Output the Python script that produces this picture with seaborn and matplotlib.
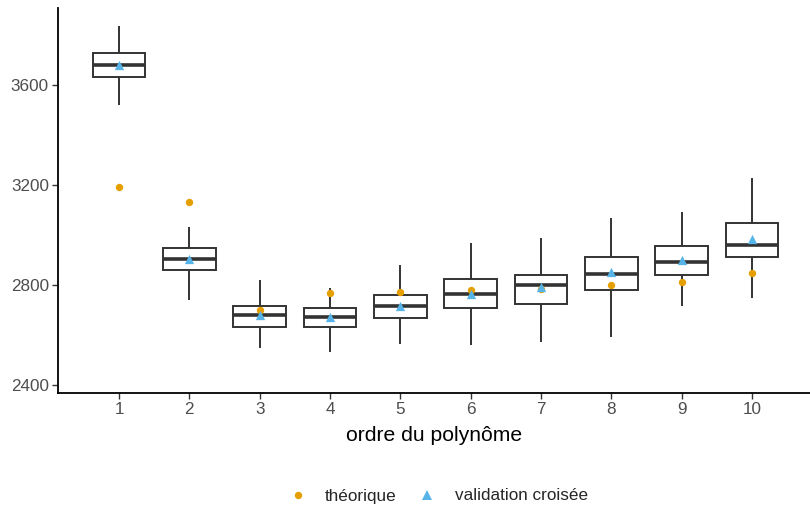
import numpy as np
import pandas as pd
import matplotlib
matplotlib.use("Agg")
import matplotlib.pyplot as plt
from matplotlib.lines import Line2D
import seaborn as sns

# ---- data ----
degrees = ["1", "2", "3", "4", "5", "6", "7", "8", "9", "10"]
whisker_low = [3519, 2740, 2549, 2532, 2565, 2560, 2573, 2593, 2717, 2747]
q1 = [3632, 2859, 2633, 2633, 2667, 2708, 2725, 2779, 2839, 2911]
median = [3679, 2905, 2679, 2673, 2717, 2764, 2800, 2845, 2891, 2960]
q3 = [3727, 2947, 2717, 2708, 2759, 2824, 2841, 2913, 2957, 3048]
whisker_high = [3836, 3033, 2820, 2787, 2880, 2967, 2987, 3067, 3093, 3227]
theorique = [3192, 3133, 2699, 2768, 2772, 2781, 2783, 2799, 2812, 2849]
validation = [3680, 2903, 2680, 2673, 2716, 2763, 2793, 2851, 2900, 2983]
y_ticks = [2400, 2800, 3200, 3600]

# long table whose five-number summaries reproduce the boxes
rows = []
for i, d in enumerate(degrees):
    for v in (whisker_low[i], q1[i], median[i], q3[i], whisker_high[i]):
        rows.append({"degre": d, "erreur": v})
df = pd.DataFrame(rows)
pts = pd.DataFrame({"degre": degrees, "theorique": theorique, "validation": validation})

sns.set_style("white")
plt.rcParams["font.family"] = ["Liberation Sans", "DejaVu Sans"]

ORANGE = "#E69F00"
BLUE = "#56B4E9"
DARK = "#333333"

fig = plt.figure(figsize=(8.10, 5.05), dpi=100)
ax = fig.add_axes([58 / 810, (505 - 393.3) / 505, 752 / 810, (393.3 - 8) / 505])

sns.boxplot(data=df, x="degre", y="erreur", order=degrees, ax=ax,
            width=0.75, color="white", linecolor=DARK, linewidth=1.4,
            whis=(0, 100), showcaps=False, fliersize=0,
            medianprops={"linewidth": 2.6, "color": DARK})
sns.stripplot(data=pts, x="degre", y="theorique", order=degrees, ax=ax,
              jitter=False, color=ORANGE, marker="o", size=5.3, linewidth=0, zorder=5)
sns.stripplot(data=pts, x="degre", y="validation", order=degrees, ax=ax,
              jitter=False, color=BLUE, marker="^", size=6.7, linewidth=0, zorder=6)

ax.set_xlim(-0.868, 9.825)
ax.set_ylim(2366.7, 3908)
ax.set_yticks(y_ticks)
ax.set_yticklabels([str(t) for t in y_ticks])
ax.set_xlabel("ordre du polynôme", fontsize=15.2, color="black", labelpad=6)
ax.set_ylabel("")
for s in ["top", "right"]:
    ax.spines[s].set_visible(False)
for s in ["left", "bottom"]:
    ax.spines[s].set_linewidth(1.3)
    ax.spines[s].set_color("black")
ax.tick_params(axis="both", which="major", length=4, width=1, color=DARK,
               labelsize=12.3, labelcolor="#4D4D4D", pad=2.5, direction="out")
ax.tick_params(left=True, bottom=True)

handles = [
    Line2D([], [], linestyle="none", marker="o", color=ORANGE, markersize=5.3, markeredgewidth=0),
    Line2D([], [], linestyle="none", marker="^", color=BLUE, markersize=6.7, markeredgewidth=0),
]
fig.legend(handles, ["théorique", "validation croisée"], loc="center",
           bbox_to_anchor=(438.5 / 810, 1 - 496 / 505), ncol=2, frameon=False,
           fontsize=12.3, handletextpad=1.1, columnspacing=1.3, handlelength=1.0)

fig.savefig("out.png", dpi=100)
